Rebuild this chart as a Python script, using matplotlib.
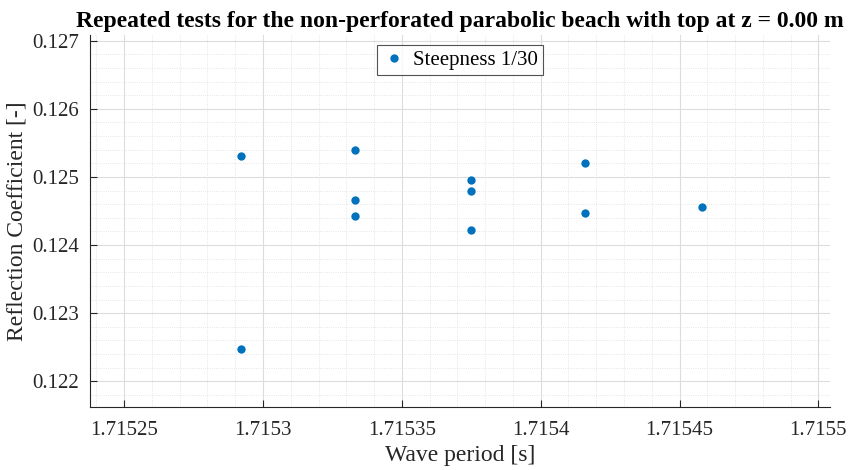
import matplotlib
matplotlib.use("Agg")
import matplotlib.pyplot as plt
from matplotlib.ticker import AutoMinorLocator

# repeated runs, grouped by wave period
wave_period = [1.715292, 1.715292,
               1.715333, 1.715333, 1.715333,
               1.715375, 1.715375, 1.715375,
               1.715416, 1.715416,
               1.715458]
refl_coef = [0.125302, 0.122468,
             0.125391, 0.124656, 0.124421,
             0.124954, 0.124793, 0.124225,
             0.125200, 0.124474,
             0.124563]

x_ticks = [1.71525, 1.7153, 1.71535, 1.7154, 1.71545, 1.7155]
x_tick_labels = ["1.71525", "1.7153", "1.71535", "1.7154", "1.71545", "1.7155"]
y_ticks = [0.122, 0.123, 0.124, 0.125, 0.126, 0.127]
y_tick_labels = ["0.122", "0.123", "0.124", "0.125", "0.126", "0.127"]

plt.rcParams['font.family'] = ['Liberation Serif', 'DejaVu Serif']

fig = plt.figure(figsize=(8.51, 4.70), dpi=100)
ax = fig.add_axes([90 / 851, 1 - 407 / 470, 740 / 851, 372 / 470])

ax.plot(wave_period, refl_coef, 'o', color='#0072BD', markersize=6,
        markeredgewidth=0, label='Steepness 1/30', zorder=3)

ax.set_xlim(1.7152377, 1.7155042)
ax.set_ylim(0.121623, 0.127084)
ax.set_xticks(x_ticks)
ax.set_xticklabels(x_tick_labels)
ax.set_yticks(y_ticks)
ax.set_yticklabels(y_tick_labels)
ax.xaxis.set_minor_locator(AutoMinorLocator(5))
ax.yaxis.set_minor_locator(AutoMinorLocator(5))

ax.grid(True, which='major', color='#dcdcdc', linewidth=0.8, zorder=0)
ax.grid(True, which='minor', color='#dedede', linewidth=0.6, linestyle=':', zorder=0)
ax.set_axisbelow(True)

for side in ('top', 'right'):
    ax.spines[side].set_visible(False)
for side in ('left', 'bottom'):
    ax.spines[side].set_color('#262626')
    ax.spines[side].set_linewidth(0.8)

ax.tick_params(which='major', direction='in', length=5, width=0.8, color='#262626',
               labelsize=15, labelcolor='#262626')
ax.tick_params(axis='x', which='major', pad=10)
ax.tick_params(axis='y', which='major', pad=8)
ax.tick_params(which='minor', length=0)

ax.set_xlabel('Wave period [s]', fontsize=17, color='#262626', labelpad=4)
ax.set_ylabel('Reflection Coefficient [-]', fontsize=17, color='#262626', labelpad=3)
ax.set_title('Repeated tests for the non-perforated parabolic beach with top at z = 0.00 m',
             fontsize=17, fontweight='bold', pad=6)

leg = ax.legend(loc='upper center', bbox_to_anchor=(0.5, 0.973), fontsize=15,
                frameon=True, fancybox=False, handletextpad=0.3,
                borderpad=0.25, handlelength=1.2, borderaxespad=0)
leg.get_frame().set_edgecolor('#262626')
leg.get_frame().set_linewidth(0.8)

fig.savefig('out.png', dpi=100)
